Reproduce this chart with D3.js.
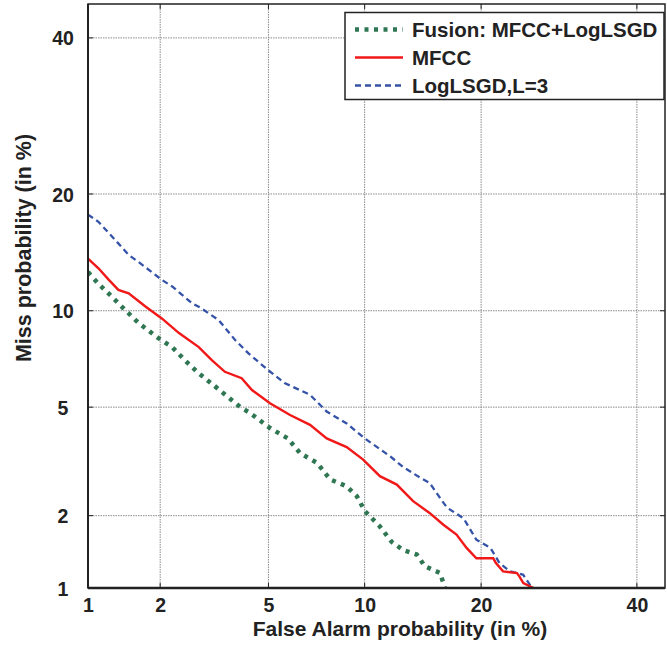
<!DOCTYPE html>
<html>
<head>
<meta charset="utf-8">
<script src="https://cdn.jsdelivr.net/npm/d3@7"></script>
<style>
body { margin: 0; background: #fff; }
svg { font-family: "Liberation Sans", Arial, sans-serif; font-weight: bold; }
</style>
</head>
<body>
<div id="chart"></div>
<script>
// DET curve: false alarm vs miss probability (both in %), normal deviate axes
const W = 667, H = 648;
const margin = {t: 4, r: 2, b: 60, l: 88};

const tickValues = [1, 2, 5, 10, 20, 40];
const tickLabels = ['1', '2', '5', '10', '20', '40'];

const seriesNames = ['Fusion: MFCC+LogLSGD', 'MFCC', 'LogLSGD,L=3'];

// Fusion: MFCC+LogLSGD
const fusionFA   = [1.0, 1.11, 1.26, 1.44, 1.64, 1.97, 2.23, 2.5, 2.82, 3.25, 4.0, 4.33, 5.06, 5.8, 6.36, 7.2, 7.9, 8.86, 9.5, 10.0, 11.05, 11.9, 12.8, 13.9, 14.6, 15.95, 16.4];
const fusionMiss = [12.8, 11.9, 11.0, 10.05, 9.2, 8.3, 7.8, 7.1, 6.46, 5.85, 5.0, 4.77, 4.24, 3.9, 3.45, 3.18, 2.76, 2.6, 2.38, 2.09, 1.81, 1.57, 1.45, 1.39, 1.24, 1.16, 1.0];

// MFCC
const mfccFA   = [1.0, 1.11, 1.23, 1.35, 1.49, 1.74, 2.03, 2.37, 2.82, 3.16, 3.52, 4.04, 4.39, 5.06, 5.9, 6.84, 7.71, 8.86, 9.9, 11.05, 12.3, 13.6, 15.0, 16.25, 17.5, 18.5, 19.5, 21.3, 21.6, 22.4, 24.0, 24.3, 24.75, 26.0];
const mfccMiss = [13.9, 13.1, 12.2, 11.45, 11.2, 10.3, 9.5, 8.6, 7.8, 7.1, 6.53, 6.23, 5.7, 5.15, 4.7, 4.35, 3.9, 3.63, 3.27, 2.84, 2.64, 2.28, 2.05, 1.84, 1.68, 1.48, 1.34, 1.34, 1.28, 1.18, 1.16, 1.12, 1.05, 1.0];

// LogLSGD, L=3
const lsgdFA   = [1.0, 1.11, 1.31, 1.49, 1.64, 2.03, 2.23, 2.66, 2.86, 3.34, 3.83, 4.27, 5.0, 5.68, 6.84, 7.71, 8.86, 10.0, 11.8, 12.8, 14.2, 15.0, 16.25, 16.6, 18.2, 19.5, 21.0, 22.0, 23.2, 24.75, 25.8];
const lsgdMiss = [17.9, 17.2, 15.5, 14.2, 13.6, 12.2, 11.7, 10.5, 10.2, 9.4, 8.2, 7.46, 6.6, 6.0, 5.5, 4.83, 4.4, 3.9, 3.36, 3.07, 2.8, 2.68, 2.25, 2.15, 1.95, 1.6, 1.48, 1.28, 1.18, 1.14, 1.0];

// inverse normal CDF (Acklam), only lower half + centre needed here
function probit(p){
	const a = [-3.969683028665376e+01, 2.209460984245205e+02, -2.759285104469687e+02, 1.383577518672690e+02, -3.066479806614716e+01, 2.506628277459239e+00];
	const b = [-5.447609879822406e+01, 1.615858368580409e+02, -1.556989798598866e+02, 6.680131188771972e+01, -1.328068155288572e+01];
	const c = [-7.784894002430293e-03, -3.223964580411365e-01, -2.400758277161838e+00, -2.549732539343734e+00, 4.374664141464968e+00, 2.938163982698783e+00];
	const d = [7.784695709041462e-03, 3.224671290700398e-01, 2.445134137142996e+00, 3.754408661907416e+00];
	if(p < 0.02425){
		const q = Math.sqrt(-2 * Math.log(p));
		return (((((c[0]*q+c[1])*q+c[2])*q+c[3])*q+c[4])*q+c[5]) / ((((d[0]*q+d[1])*q+d[2])*q+d[3])*q+1);
	}
	if(p > 1 - 0.02425) return -probit(1 - p);
	const q = p - 0.5, r = q * q;
	return (((((a[0]*r+a[1])*r+a[2])*r+a[3])*r+a[4])*r+a[5])*q / (((((b[0]*r+b[1])*r+b[2])*r+b[3])*r+b[4])*r+1);
}

const xs = d3.scaleLinear()
	.domain([probit(0.01), probit(0.4415)])
	.range([margin.l, W - margin.r]);
const ys = d3.scaleLinear()
	.domain([probit(0.01), probit(0.45)])
	.range([H - margin.b, margin.t]);
const x = v => xs(probit(v / 100));
const y = v => ys(probit(v / 100));

const svg = d3.select('#chart')
	.append('svg')
	.attr('width', W)
	.attr('height', H);

const x0 = margin.l, x1 = W - margin.r, y0 = H - margin.b, y1 = margin.t;

// grid
const grid = svg.append('g').attr('class', 'grid');
grid.selectAll('.vg')
	.data(tickValues.slice(1))
	.enter()
	.append('line')
	.attr('x1', d => x(d)).attr('x2', d => x(d))
	.attr('y1', y0).attr('y2', y1)
	.style('stroke', '#8a8a8a')
	.style('stroke-width', 1)
	.style('stroke-dasharray', '1.5,1');
grid.selectAll('.hg')
	.data(tickValues.slice(1))
	.enter()
	.append('line')
	.attr('y1', d => y(d)).attr('y2', d => y(d))
	.attr('x1', x0).attr('x2', x1)
	.style('stroke', '#8a8a8a')
	.style('stroke-width', 1)
	.style('stroke-dasharray', '1.5,1');

// axes with labels
const xAxis = d3.axisBottom(xs)
	.tickValues(tickValues.map(v => probit(v / 100)))
	.tickFormat((d, i) => tickLabels[i])
	.tickSize(0)
	.tickPadding(10);
const gx = svg.append('g')
	.attr('transform', `translate(0, ${y0})`)
	.call(xAxis);
gx.select('.domain').remove();
gx.selectAll('text')
	.attr('y', 23.5)
	.attr('dy', 0)
	.style('font-size', '19.5px')
	.style('font-weight', 'bold')
	.style('font-family', '"Liberation Sans", Arial, sans-serif')
	.style('fill', '#222');

const yAxis = d3.axisLeft(ys)
	.tickValues(tickValues.map(v => probit(v / 100)))
	.tickFormat((d, i) => tickLabels[i])
	.tickSize(0);
const gy = svg.append('g')
	.call(yAxis);
gy.select('.domain').remove();
gy.selectAll('text')
	.attr('x', 63)
	.attr('dy', '0.36em')
	.style('text-anchor', 'middle')
	.style('font-size', '19.5px')
	.style('font-weight', 'bold')
	.style('font-family', '"Liberation Sans", Arial, sans-serif')
	.style('fill', '#222');

// inward tick marks on all sides
const ticks = svg.append('g').style('stroke', '#222').style('stroke-width', 1);
tickValues.forEach(v => {
	ticks.append('line').attr('x1', x(v)).attr('x2', x(v)).attr('y1', y0).attr('y2', y0 - 5);
	ticks.append('line').attr('x1', x(v)).attr('x2', x(v)).attr('y1', y1).attr('y2', y1 + 5);
	ticks.append('line').attr('y1', y(v)).attr('y2', y(v)).attr('x1', x0).attr('x2', x0 + 5);
	ticks.append('line').attr('y1', y(v)).attr('y2', y(v)).attr('x1', x1).attr('x2', x1 - 5);
});

// curves
svg.append('clipPath').attr('id', 'clip')
	.append('rect').attr('x', x0).attr('y', y1).attr('width', x1 - x0).attr('height', y0 - y1);

const line = d3.line().x(d => x(d[0])).y(d => y(d[1]));
const series = [
	{fa: lsgdFA, miss: lsgdMiss, color: '#3452a8', width: 2.3, dash: '6,4'},
	{fa: mfccFA, miss: mfccMiss, color: '#f01818', width: 2.4, dash: null},
	{fa: fusionFA, miss: fusionMiss, color: '#2f7753', width: 4.5, dash: '4,5.5'}
];
const plot = svg.append('g').attr('clip-path', 'url(#clip)');
plot.selectAll('.curve')
	.data(series)
	.enter()
	.append('path')
	.attr('class', 'curve')
	.attr('d', d => line(d.fa.map((f, i) => [f, d.miss[i]])))
	.style('fill', 'none')
	.style('stroke', d => d.color)
	.style('stroke-width', d => d.width)
	.style('stroke-dasharray', d => d.dash);

// frame
svg.append('rect')
	.attr('x', x0).attr('y', y1)
	.attr('width', x1 - x0).attr('height', y0 - y1)
	.style('fill', 'none')
	.style('stroke', '#222')
	.style('stroke-width', 1.5);
svg.append('line').attr('x1', x0).attr('x2', x1).attr('y1', y0).attr('y2', y0)
	.style('stroke', '#222').style('stroke-width', 2.5);
svg.append('line').attr('x1', x0).attr('x2', x0).attr('y1', y0).attr('y2', y1)
	.style('stroke', '#222').style('stroke-width', 2);

// axis titles
svg.append('text')
	.attr('x', 400).attr('y', 636)
	.attr('text-anchor', 'middle')
	.style('font-size', '21px')
	.style('fill', '#222')
	.text('False Alarm probability (in %)');
svg.append('text')
	.attr('transform', 'translate(31, 248) rotate(-90)')
	.attr('text-anchor', 'middle')
	.style('font-size', '21.5px')
	.style('fill', '#222')
	.text('Miss probability (in %)');

// legend
const legend = svg.append('g');
legend.append('rect')
	.attr('x', 345).attr('y', 12.5)
	.attr('width', 319).attr('height', 87)
	.style('fill', '#fff')
	.style('stroke', '#222')
	.style('stroke-width', 1.5);
const legendOrder = [series[2], series[1], series[0]];
legendOrder.forEach((s, i) => {
	const ly = 29.5 + i * 28;
	legend.append('line')
		.attr('x1', 355).attr('x2', 403)
		.attr('y1', ly).attr('y2', ly)
		.style('stroke', s.color)
		.style('stroke-width', s.width)
		.style('stroke-dasharray', s.dash);
	legend.append('text')
		.attr('x', 412).attr('y', ly)
		.attr('dy', '0.36em')
		.style('font-size', '20.5px')
		.style('fill', '#222')
		.text(seriesNames[i]);
});
</script>
</body>
</html>
